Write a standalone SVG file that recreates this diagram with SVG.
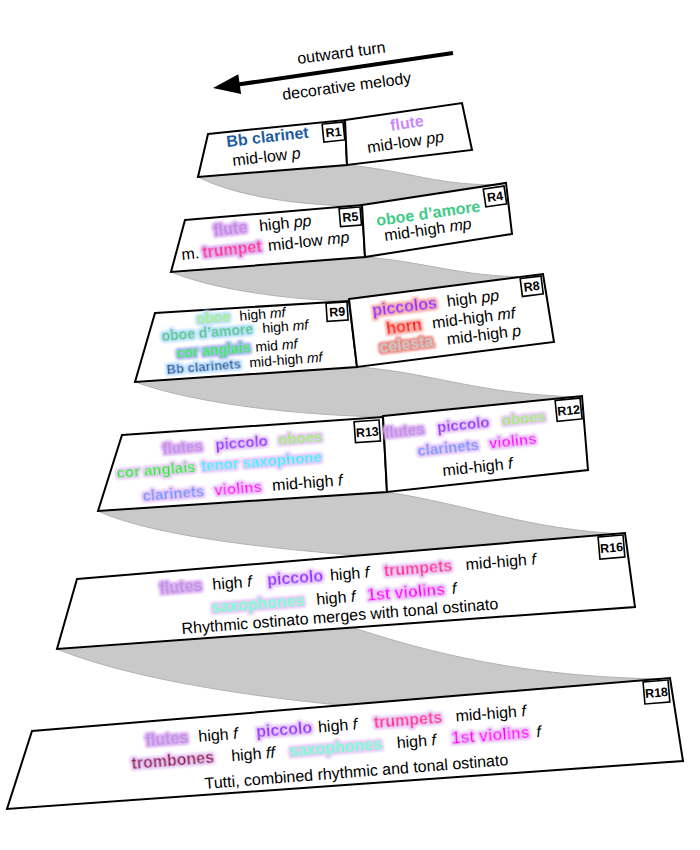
<svg xmlns="http://www.w3.org/2000/svg" width="700" height="850" viewBox="0 0 700 850">
<defs>
<style>
.t{font-family:"Liberation Sans",Arial,sans-serif;font-size:16px;fill:#000}
.b{font-weight:bold}
.i{font-style:italic}
.s14{font-size:14px}
.s13{font-size:13px}
.s15{font-size:15px}
.panel{fill:#fff;stroke:#000;stroke-width:2;stroke-linejoin:miter}
.rib{fill:#c9c9c9;stroke:#b2b2b2;stroke-width:1}
.box rect{fill:#fff;stroke:#000;stroke-width:1.6}
.box text{font-family:"Liberation Sans",Arial,sans-serif;font-weight:bold;font-size:12.5px;fill:#000;text-anchor:middle}
</style>
<filter id="hLav" x="-20%" y="-50%" width="140%" height="200%">
<feMorphology in="SourceAlpha" operator="dilate" radius="2.2" result="d"/>
<feGaussianBlur in="d" stdDeviation="1" result="bl"/>
<feFlood flood-color="#e8c8f8"/>
<feComposite in2="bl" operator="in" result="h"/>
<feMerge><feMergeNode in="h"/><feMergeNode in="SourceGraphic"/></feMerge>
</filter>
<filter id="hLavD" x="-20%" y="-50%" width="140%" height="200%">
<feMorphology in="SourceAlpha" operator="dilate" radius="2.2" result="d"/>
<feGaussianBlur in="d" stdDeviation="1.3" result="bl"/>
<feFlood flood-color="#dbb0f1"/>
<feComposite in2="bl" operator="in" result="h"/>
<feMerge><feMergeNode in="h"/><feMergeNode in="SourceGraphic"/></feMerge>
</filter>
<filter id="hBlue" x="-20%" y="-50%" width="140%" height="200%">
<feMorphology in="SourceAlpha" operator="dilate" radius="2.2" result="d"/>
<feGaussianBlur in="d" stdDeviation="1" result="bl"/>
<feFlood flood-color="#bde0ff"/>
<feComposite in2="bl" operator="in" result="h"/>
<feMerge><feMergeNode in="h"/><feMergeNode in="SourceGraphic"/></feMerge>
</filter>
<filter id="hBlue2" x="-20%" y="-50%" width="140%" height="200%">
<feMorphology in="SourceAlpha" operator="dilate" radius="2.2" result="d"/>
<feGaussianBlur in="d" stdDeviation="1" result="bl"/>
<feFlood flood-color="#a9b2f6"/>
<feComposite in2="bl" operator="in" result="h"/>
<feMerge><feMergeNode in="h"/><feMergeNode in="SourceGraphic"/></feMerge>
</filter>
<filter id="hRed" x="-20%" y="-50%" width="140%" height="200%">
<feMorphology in="SourceAlpha" operator="dilate" radius="2.2" result="d"/>
<feGaussianBlur in="d" stdDeviation="1" result="bl"/>
<feFlood flood-color="#f6ada6"/>
<feComposite in2="bl" operator="in" result="h"/>
<feMerge><feMergeNode in="h"/><feMergeNode in="SourceGraphic"/></feMerge>
</filter>
<filter id="hRedD" x="-20%" y="-50%" width="140%" height="200%">
<feMorphology in="SourceAlpha" operator="dilate" radius="2.4" result="d"/>
<feGaussianBlur in="d" stdDeviation="1" result="bl"/>
<feFlood flood-color="#ee8a82"/>
<feComposite in2="bl" operator="in" result="h"/>
<feMerge><feMergeNode in="h"/><feMergeNode in="SourceGraphic"/></feMerge>
</filter>
</defs>
<rect width="700" height="850" fill="#fff"/>

<g id="connectors">
<path class="rib" d="M198,177 L347,165 C405,170 445,188 505,184 L362,206 C300,206 235,196 198,177 Z"/>
<path class="rib" d="M171,272 L365,257 C430,262 470,280 543,276 L349,301 C290,300 215,290 171,272 Z"/>
<path class="rib" d="M135,382 L357,367 C430,372 480,395 582,397 L383,417 C300,415 200,405 135,382 Z"/>
<path class="rib" d="M98,511 L387,492 C470,505 530,530 625,534 L365,556 C260,548 150,535 98,511 Z"/>
<path class="rib" d="M57,649 L345,625 C420,650 520,678 670,679 L350,706 C230,695 120,675 57,649 Z"/>
</g>

<g id="arrow">
<line x1="453" y1="53" x2="238" y2="84.5" stroke="#000" stroke-width="4"/>
<polygon points="213,88 238.3,74.2 241.1,94" fill="#000"/>
<text class="t" transform="translate(298,64) rotate(-7.5)">outward turn</text>
<text class="t" transform="translate(283,100) rotate(-7.5)">decorative melody</text>
</g>

<g id="panel1">
<polygon class="panel" points="208,134 345,120 347,165 198,177"/>
<polygon class="panel" points="345,120 462,103 472,150 347,165"/>
<g class="box" transform="translate(343,122) rotate(-5.8)"><rect x="-21" y="0" width="21" height="18"/><text x="-10.5" y="13.5">R1</text></g>
<g transform="translate(227,147) rotate(-6.5)"><text class="t b" x="0" y="0" style="fill:#1f5c9c">Bb clarinet</text></g>
<g transform="translate(233,166) rotate(-6.5)"><text class="t" x="0" y="0">mid-low <tspan class="i">p</tspan></text></g>
<g transform="translate(391,131) rotate(-8.5)"><text class="t b" x="0" y="0" style="fill:#cc88ff">flute</text></g>
<g transform="translate(368,153) rotate(-8.5)"><text class="t" x="0" y="0">mid-low <tspan class="i">pp</tspan></text></g>
</g>

<g id="panel2">
<polygon class="panel" points="185,220 362,205 365,257 171,272"/>
<polygon class="panel" points="362,205 506,183 512,234 365,257"/>
<g class="box" transform="translate(360,207) rotate(-4.8)"><rect x="-21" y="0" width="21" height="18"/><text x="-10.5" y="13.5">R5</text></g>
<g class="box" transform="translate(504,186) rotate(-8.6)"><rect x="-21" y="0" width="21" height="18"/><text x="-10.5" y="13.5">R4</text></g>
<g transform="translate(214,236) rotate(-6)">
<text class="t b" x="0" y="0" style="fill:#c58ae8" filter="url(#hLavD)">flute</text>
<text class="t" x="46" y="0">high <tspan class="i">pp</tspan></text>
</g>
<g transform="translate(182,260) rotate(-6)">
<text class="t" x="0" y="0">m.</text>
<text class="t b" x="21" y="0" style="fill:#ff3399" filter="url(#hLavD)">trumpet</text>
<text class="t" x="87" y="0">mid-low <tspan class="i">mp</tspan></text>
</g>
<g transform="translate(377,226) rotate(-8)"><text class="t b" x="0" y="0" style="fill:#3fcb86">oboe d’amore</text></g>
<g transform="translate(385,241) rotate(-8)"><text class="t" x="0" y="0">mid-high <tspan class="i">mp</tspan></text></g>
</g>

<g id="panel3">
<polygon class="panel" points="155,313 349,301 357,367 135,382"/>
<polygon class="panel" points="349,299 543,274 554,342 357,367"/>
<g class="box" transform="translate(347,302) rotate(-3.6)"><rect x="-21" y="0" width="21" height="18"/><text x="-10.5" y="13.5">R9</text></g>
<g class="box" transform="translate(541,276) rotate(-7.2)"><rect x="-21" y="0" width="21" height="18"/><text x="-10.5" y="13.5">R8</text></g>
<g transform="translate(197,324) rotate(-4.5)">
<text class="t b s14" x="0" y="0" style="fill:#a8f07a" filter="url(#hBlue)">oboe</text>
<text class="t s14" x="43" y="0">high <tspan class="i">mf</tspan></text>
</g>
<g transform="translate(162,341) rotate(-4.5)">
<text class="t b s14" x="0" y="0" style="fill:#4fca86" filter="url(#hBlue)">oboe d’amore</text>
<text class="t s14" x="101" y="0">high <tspan class="i">mf</tspan></text>
</g>
<g transform="translate(177,358) rotate(-4.5)">
<text class="t b s14" x="0" y="0" style="fill:#22ee22" filter="url(#hBlue2)">cor anglais</text>
<text class="t s14" x="79" y="0">mid <tspan class="i">mf</tspan></text>
</g>
<g transform="translate(167,374) rotate(-4.5)">
<text class="t b s13" x="0" y="0" style="fill:#1f5c9c" filter="url(#hBlue)">Bb clarinets</text>
<text class="t s14" x="83" y="0">mid-high <tspan class="i">mf</tspan></text>
</g>
<g transform="translate(373,316) rotate(-7)">
<text class="t b" x="0" y="0" style="fill:#9933ff" filter="url(#hRed)">piccolos</text>
<text class="t" x="75" y="0">high <tspan class="i">pp</tspan></text>
</g>
<g transform="translate(387,334) rotate(-7)">
<text class="t b" x="0" y="0" style="fill:#ff1a1a" filter="url(#hRed)">horn</text>
<text class="t" x="46" y="0">mid-high <tspan class="i">mf</tspan></text>
</g>
<g transform="translate(380,353) rotate(-7)">
<text class="t b" x="0" y="0" style="fill:#c8c8c8" filter="url(#hRedD)">celesta</text>
<text class="t" x="68" y="0">mid-high <tspan class="i">p</tspan></text>
</g>
</g>

<g id="panel4">
<polygon class="panel" points="122,435 383,417 387,492 98,511"/>
<polygon class="panel" points="383,416 582,396 588,470 387,492"/>
<g class="box" transform="translate(379,420) rotate(-4)"><rect x="-25" y="0" width="25" height="21"/><text x="-12.5" y="15.5">R13</text></g>
<g class="box" transform="translate(580,398) rotate(-5.7)"><rect x="-25" y="0" width="25" height="21"/><text x="-12.5" y="15.5">R12</text></g>
<g transform="translate(163,454) rotate(-4.5)">
<text class="t b s15" x="0" y="0" style="fill:#c393e6" filter="url(#hLavD)">flutes</text>
<text class="t b s15" x="53" y="0" style="fill:#9933ff" filter="url(#hLav)">piccolo</text>
<text class="t b s15" x="116" y="0" style="fill:#a4ee6a" filter="url(#hLav)">oboes</text>
</g>
<g transform="translate(117,478) rotate(-4.5)">
<text class="t b s15" x="0" y="0" style="fill:#22ee22" filter="url(#hLav)">cor anglais</text>
<text class="t b s15" x="85" y="0" style="fill:#33eeff" filter="url(#hLav)">tenor saxophone</text>
</g>
<g transform="translate(143,501) rotate(-4.5)">
<text class="t b s15" x="0" y="0" style="fill:#7799ff" filter="url(#hLav)">clarinets</text>
<text class="t b s15" x="72" y="0" style="fill:#ff00ff" filter="url(#hLav)">violins</text>
<text class="t" x="130" y="0">mid-high <tspan class="i">f</tspan></text>
</g>
<g transform="translate(385,438) rotate(-6)">
<text class="t b s15" x="0" y="0" style="fill:#c393e6" filter="url(#hLavD)">flutes</text>
<text class="t b s15" x="53" y="0" style="fill:#9933ff" filter="url(#hLav)">piccolo</text>
<text class="t b s15" x="118" y="0" style="fill:#a4ee6a" filter="url(#hLav)">oboes</text>
</g>
<g transform="translate(418,456) rotate(-6)">
<text class="t b s15" x="0" y="0" style="fill:#7799ff" filter="url(#hLav)">clarinets</text>
<text class="t b s15" x="72" y="0" style="fill:#ff00ff" filter="url(#hLav)">violins</text>
</g>
<g transform="translate(443,476) rotate(-6)"><text class="t" x="0" y="0">mid-high <tspan class="i">f</tspan></text></g>
</g>

<g id="panel5">
<polygon class="panel" points="77,579 625,533 635,607 57,649"/>
<g class="box" transform="translate(623,535) rotate(-4.8)"><rect x="-25" y="0" width="25" height="22"/><text x="-12.5" y="16">R16</text></g>
<g transform="translate(160,594) rotate(-4.5)">
<text class="t b" x="0" y="0" style="fill:#c393e6" filter="url(#hLavD)">flutes</text>
<text class="t" x="53" y="0">high <tspan class="i">f</tspan></text>
<text class="t b" x="108" y="0" style="fill:#9933ff" filter="url(#hLav)">piccolo</text>
<text class="t" x="171" y="0">high <tspan class="i">f</tspan></text>
<text class="t b" x="225" y="0" style="fill:#ff3399" filter="url(#hLav)">trumpets</text>
<text class="t" x="307" y="0">mid-high <tspan class="i">f</tspan></text>
</g>
<g transform="translate(212,613) rotate(-4.5)">
<text class="t b" x="0" y="0" style="fill:#6dffcf" filter="url(#hLav)">saxophones</text>
<text class="t" x="105" y="0">high <tspan class="i">f</tspan></text>
<text class="t b" x="156" y="0" style="fill:#ff00ff" filter="url(#hLav)">1st violins</text>
<text class="t i" x="241" y="0">f</text>
</g>
<g transform="translate(182,634) rotate(-4.5)"><text class="t" x="0" y="0">Rhythmic ostinato merges with tonal ostinato</text></g>
</g>

<g id="panel6">
<polygon class="panel" points="32,731 670,678 683,761 7,809"/>
<g class="box" transform="translate(668,680) rotate(-4.75)"><rect x="-25" y="0" width="25" height="22"/><text x="-12.5" y="16">R18</text></g>
<g transform="translate(146,746) rotate(-4.5)">
<text class="t b" x="0" y="0" style="fill:#c393e6" filter="url(#hLavD)">flutes</text>
<text class="t" x="53" y="0">high <tspan class="i">f</tspan></text>
<text class="t b" x="111" y="0" style="fill:#9933ff" filter="url(#hLav)">piccolo</text>
<text class="t" x="173" y="0">high <tspan class="i">f</tspan></text>
<text class="t b" x="229" y="0" style="fill:#ff3399" filter="url(#hLav)">trumpets</text>
<text class="t" x="311" y="0">mid-high <tspan class="i">f</tspan></text>
</g>
<g transform="translate(132,769) rotate(-4.5)">
<text class="t b" x="0" y="0" style="fill:#99004d" filter="url(#hLav)">trombones</text>
<text class="t" x="100" y="0">high <tspan class="i">ff</tspan></text>
<text class="t b" x="158" y="0" style="fill:#6dffcf" filter="url(#hLav)">saxophones</text>
<text class="t" x="266" y="0">high <tspan class="i">f</tspan></text>
<text class="t b" x="321" y="0" style="fill:#ff00ff" filter="url(#hLav)">1st violins</text>
<text class="t i" x="406" y="0">f</text>
</g>
<g transform="translate(205,789) rotate(-4.5)"><text class="t" x="0" y="0">Tutti, combined rhythmic and tonal ostinato</text></g>
</g>
</svg>
